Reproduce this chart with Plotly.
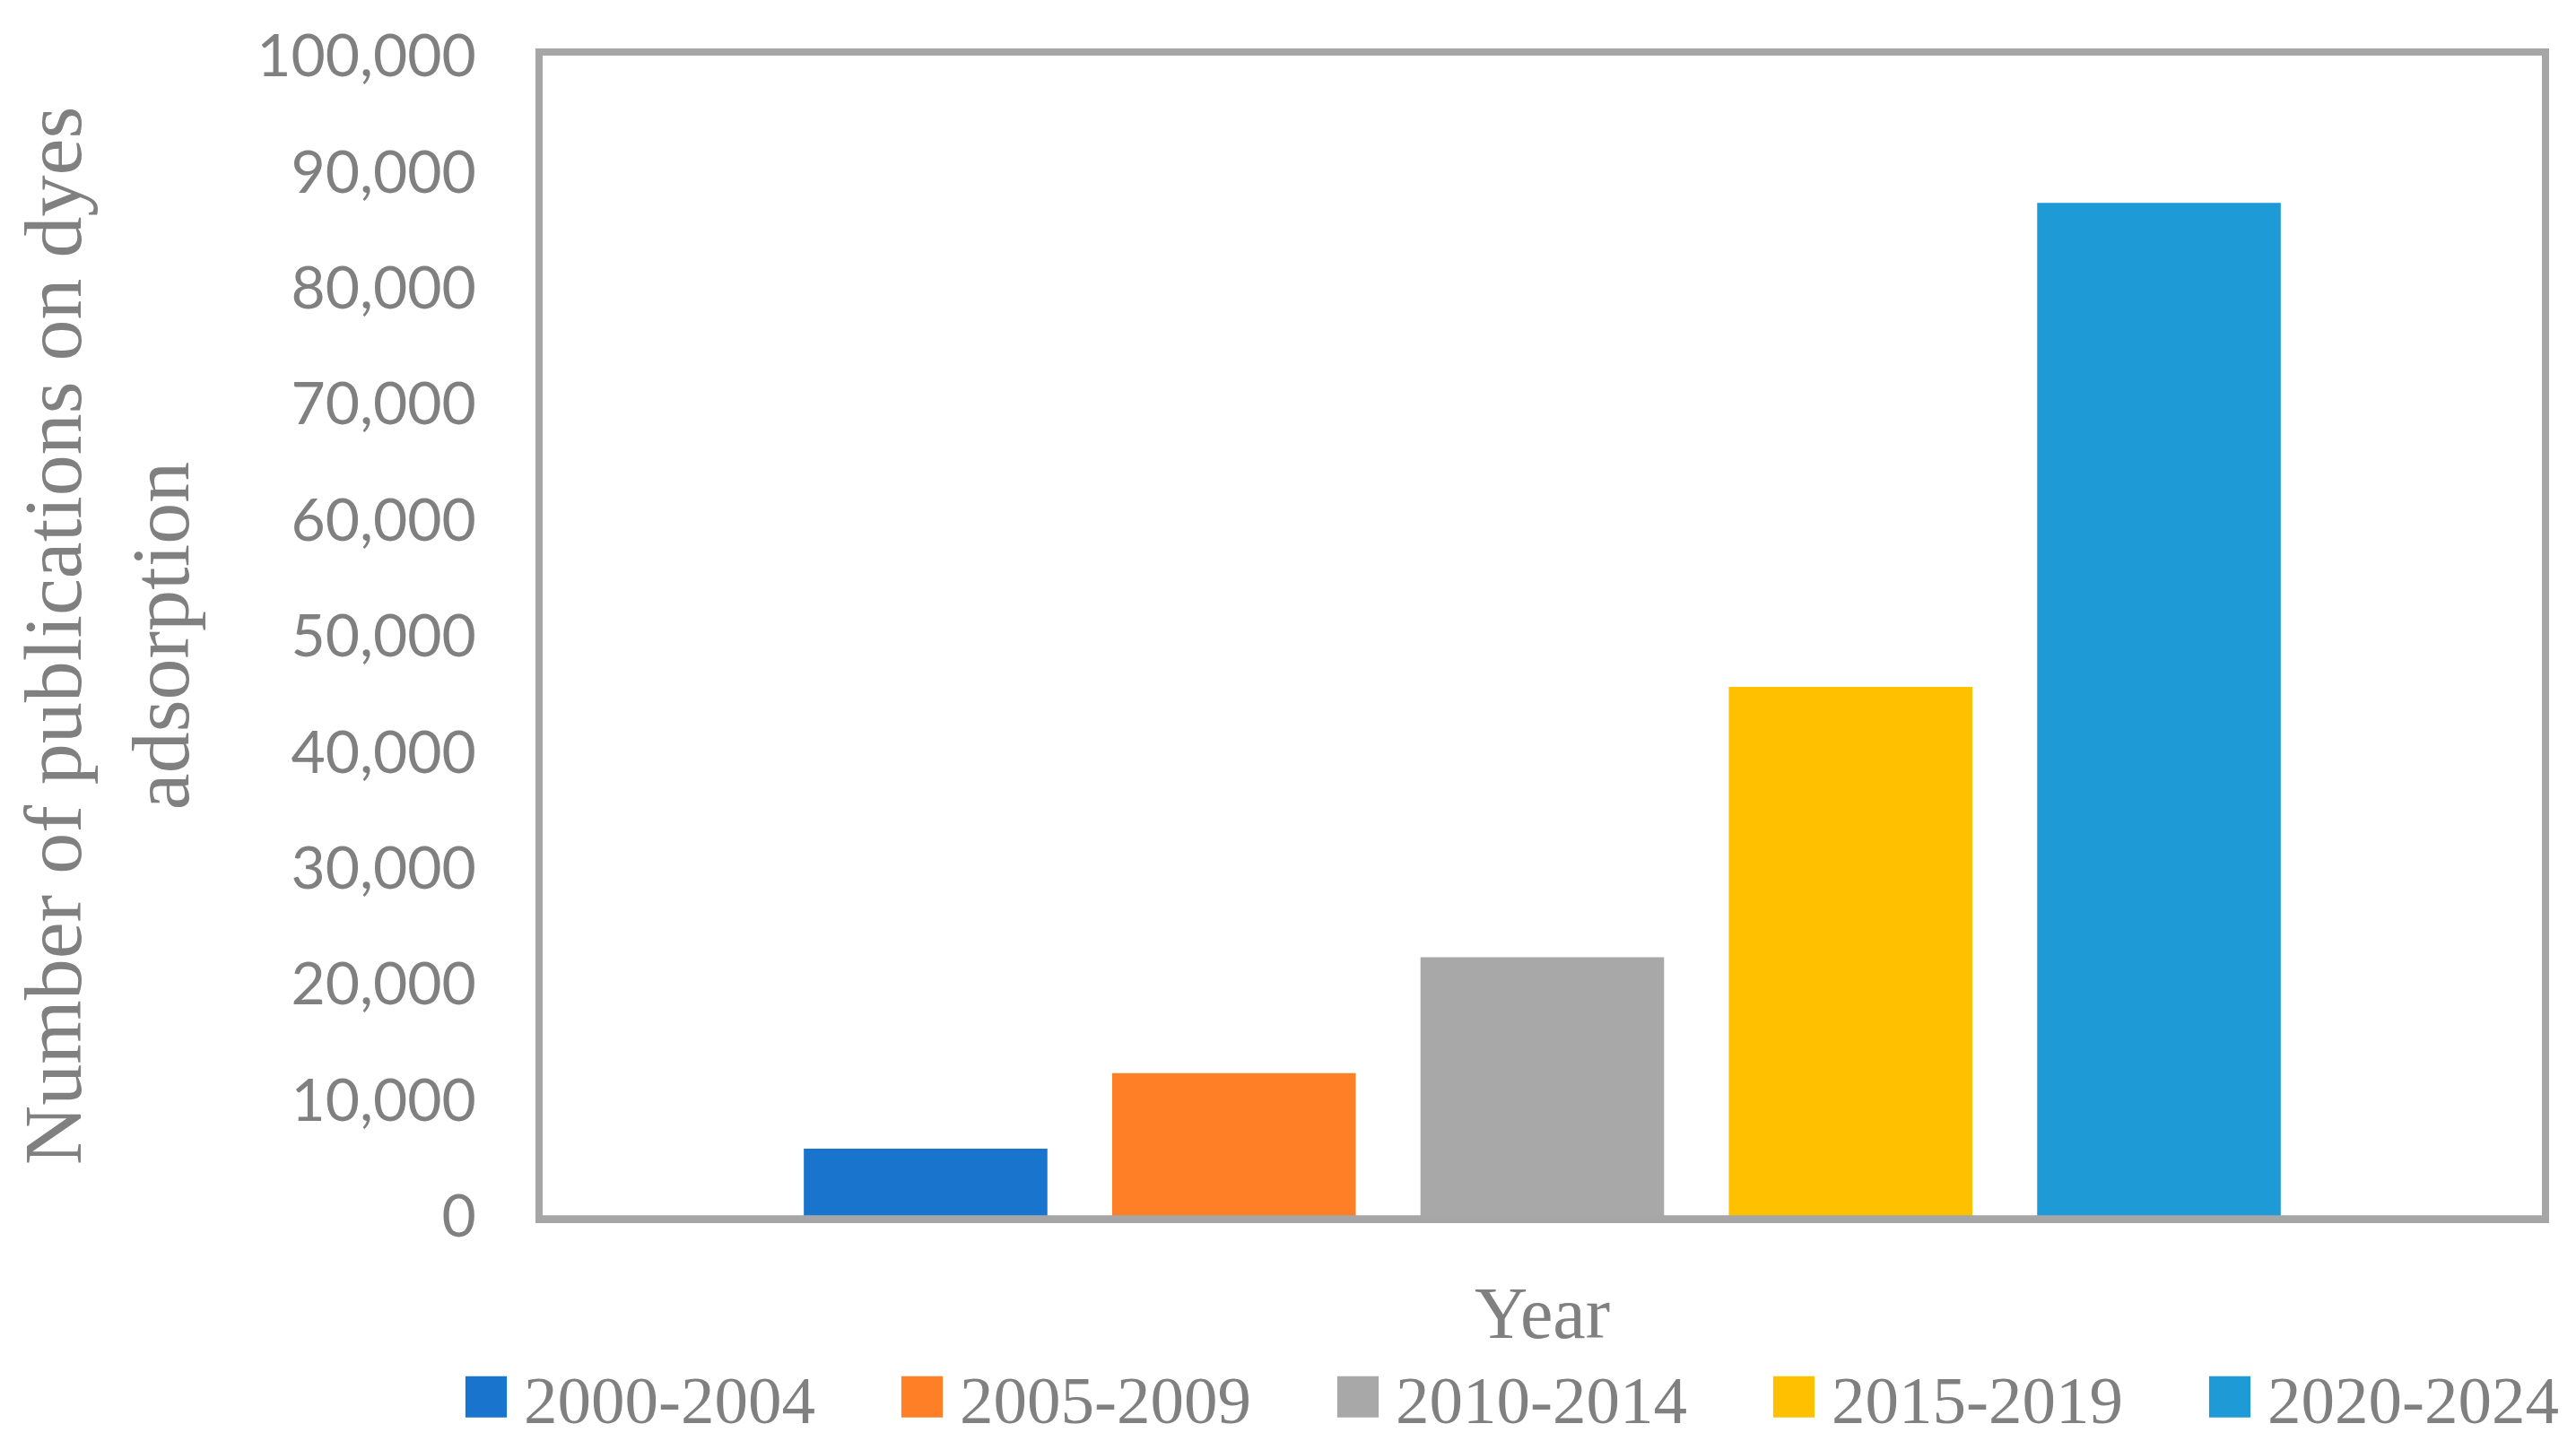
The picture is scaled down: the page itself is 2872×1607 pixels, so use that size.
import plotly.graph_objects as go

periods = ["2000-2004", "2005-2009", "2010-2014", "2015-2019", "2020-2024"]
publications = [5800, 12300, 22300, 45600, 87300]
colors = ["#1874cd", "#ff7f27", "#a8a8a8", "#ffc000", "#1e9bd7"]
y_ticks = [0, 10000, 20000, 30000, 40000, 50000, 60000, 70000, 80000, 90000, 100000]

W, H = 2872, 1607
L, R, T, B = 605, 38, 62, 251
PW, PH = W - L - R, H - T - B

TEXT = "#808080"
FRAME = "#a6a6a6"
SERIF = "Liberation Serif, Times New Roman, serif"
SANS = "Lato, Carlito, Calibri, sans-serif"

fig = go.Figure()
for p, v, c in zip(periods, publications, colors):
    fig.add_trace(go.Bar(
        x=[p], y=[v], name=p, width=0.79,
        marker=dict(color=c, line=dict(width=0)),
    ))

fig.update_layout(
    width=W, height=H,
    margin=dict(l=L, r=R, t=T, b=B, autoexpand=False),
    paper_bgcolor="white", plot_bgcolor="white",
    barmode="overlay",
    showlegend=True,
    legend=dict(
        orientation="h",
        x=(500 - L) / PW, xanchor="left",
        y=-(1558 - (H - B)) / PH, yanchor="middle",
        font=dict(family=SERIF, size=75, color=TEXT),
        entrywidth=397, entrywidthmode="pixels",
        itemwidth=74,
        bgcolor="rgba(0,0,0,0)",
        traceorder="normal",
    ),
    xaxis=dict(
        type="category",
        categoryorder="array", categoryarray=periods,
        range=[-1.242, 5.242],
        showticklabels=False, ticks="",
        showgrid=False, zeroline=False,
        showline=True, mirror=True, linecolor=FRAME, linewidth=8,
        title=dict(text="Year", font=dict(family=SERIF, size=82, color=TEXT), standoff=75),
    ),
    yaxis=dict(
        range=[0, 100000],
        tickvals=y_ticks, tickformat=",d",
        tickfont=dict(family=SANS, size=66, color=TEXT),
        ticks="", ticklabelstandoff=53,
        showgrid=False, zeroline=False,
        showline=True, mirror=True, linecolor=FRAME, linewidth=8,
        title=dict(text="Number of publications on dyes<br>adsorption",
                   font=dict(family=SERIF, size=92, color=TEXT), standoff=48),
    ),
    shapes=[dict(
        type="rect", xref="x domain", x0=0, x1=1,
        yref="y", ysizemode="pixel", yanchor=0, y0=-8, y1=0,
        fillcolor="#d9d9d9", line=dict(color=FRAME, width=1.5), layer="above",
    )],
)

post = """
document.body.style.margin = '0';
document.body.style.overflow = 'hidden';
var gd = document.getElementById('{plot_id}');
gd.querySelectorAll('.legend .legendpoints path').forEach(function(p){
  var t = p.getAttribute('transform') || '';
  p.setAttribute('transform', t + ' scale(3.85)');
  p.style.strokeWidth = '0px';
});
"""

fig.write_html("out.html", post_script=post, config={"displayModeBar": False})
